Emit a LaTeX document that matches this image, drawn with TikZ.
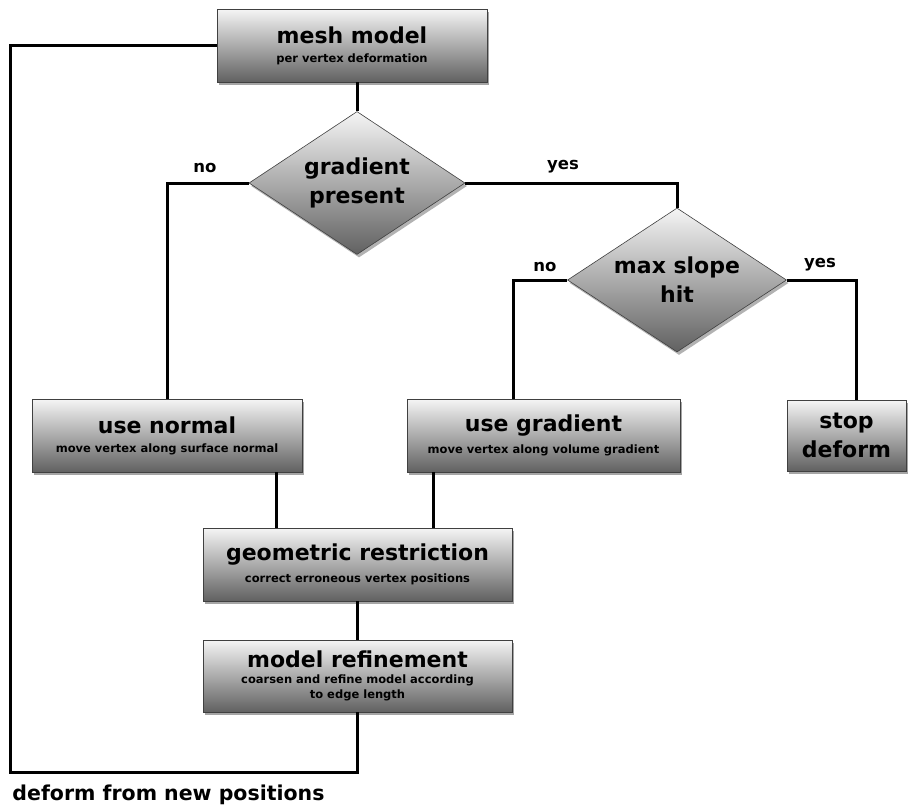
\documentclass[tikz,border=0pt]{standalone}
\usepackage{fontspec}
\setmainfont{DejaVu Sans}
\usetikzlibrary{shapes.geometric,shadows}

\newcommand{\boxhead}{\fontsize{22}{29}\selectfont\bfseries}
\newcommand{\boxsub}{\fontsize{11.5}{15}\selectfont\bfseries}

\begin{document}
\begin{tikzpicture}[x=1pt, y=-1pt]
  \tikzstyle{box}=[rectangle, draw=black!75, line width=0.6pt, top color=black!4, bottom color=black!62,
    align=center, inner sep=0pt, drop shadow={shadow xshift=2pt, shadow yshift=-3pt, opacity=0.7}]
  \tikzstyle{decision}=[diamond, draw=black!75, line width=0.6pt, top color=black!4, bottom color=black!62,
    align=center, inner sep=0pt, aspect=1.5, minimum width=216pt, minimum height=143pt, font=\boxhead,
    drop shadow={shadow xshift=2pt, shadow yshift=-3pt, opacity=0.6}]
  \tikzstyle{link}=[line width=3pt, black]
  \tikzstyle{tag}=[font=\fontsize{16.5}{18}\selectfont\bfseries, inner sep=0pt]

  \useasboundingbox[fill=white] (0,0) rectangle (908,806);

  \node[box, minimum width=270pt, minimum height=73pt] (mesh) at (352,45.5)
    {{\boxhead mesh model}\\[7pt]{\boxsub per vertex deformation}};
  \node[decision] (grad) at (357,183) {gradient\\present};
  \node[decision, minimum width=219pt, minimum height=144pt] (slope) at (677,280) {max slope\\hit};
  \node[box, minimum width=270pt, minimum height=73pt] (normal) at (167,435.5)
    {{\boxhead use normal}\\[7pt]{\boxsub move vertex along surface normal}};
  \node[box, minimum width=273pt, minimum height=73pt] (usegrad) at (543.5,435.5)
    {{\boxhead use gradient}\\[7pt]{\boxsub move vertex along volume gradient}};
  \node[box, minimum width=119pt, minimum height=71pt, font=\boxhead] (stop) at (846.5,435.5) {stop\\deform};
  \node[box, minimum width=309pt, minimum height=73pt] (restrict) at (357.5,564.5)
    {{\boxhead geometric restriction}\\[7pt]{\boxsub correct erroneous vertex positions}};
  \node[box, minimum width=309pt, minimum height=72pt] (refine) at (357.5,676)
    {{\boxhead model refinement}\\[4pt]{\boxsub coarsen and refine model according}\\[3pt]{\boxsub to edge length}};

  \coordinate (loopB) at (10,772);

  \node[tag] (no1) at (205,168) {no};
  \node[tag] (yes1) at (563,167) {yes};
  \node[tag] (no2) at (545,267) {no};
  \node[tag] (yes2) at (820,265) {yes};
  \node[font=\fontsize{20.5}{22}\selectfont\bfseries, inner sep=0pt] (back) at (168.5,795) {deform from new positions};

  \draw[link] (grad.north |- mesh.south) -- (grad.north);
  \draw[link] (grad.west) -| (normal.north);
  \draw[link] (grad.east) -| (slope.north);
  \draw[link] (slope.west) -| ([xshift=-30pt]usegrad.north);
  \draw[link] (slope.east) -| ([xshift=10pt]stop.north);
  \draw[link] ([xshift=-26pt]normal.south east) -- ([xshift=-26pt]normal.south east |- restrict.north);
  \draw[link] ([xshift=27pt]usegrad.south west) -- ([xshift=27pt]usegrad.south west |- restrict.north);
  \draw[link] (restrict.south) -- (refine.north);
  \draw[link] (mesh.west) -| (loopB) -| (refine.south);
\end{tikzpicture}
\end{document}
